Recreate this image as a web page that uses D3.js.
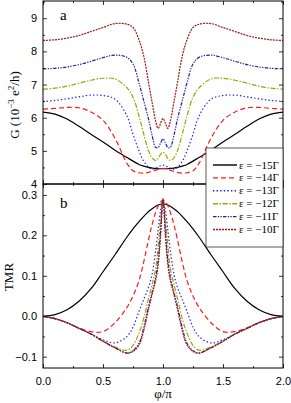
<!DOCTYPE html>
<html><head><meta charset="utf-8">
<script src="https://cdn.jsdelivr.net/npm/d3@7"></script>
<style>
html,body{margin:0;padding:0;background:#fff;}
svg{display:block;}
.tick text{font-family:"Liberation Sans",Arial,sans-serif;font-size:11px;fill:#000;}
.serif{font-family:"Liberation Serif","Times New Roman",serif;fill:#000;}
</style>
</head><body>
<svg id="c" width="291" height="403"></svg>
<script>
// ---------- data ----------
const phi = [0,0.1,0.2,0.3,0.4,0.5,0.6,0.7,0.75,0.8,0.84,0.88,0.91,0.94,0.96,0.98,1.0,
             1.02,1.04,1.06,1.09,1.12,1.16,1.2,1.25,1.3,1.4,1.5,1.6,1.7,1.8,1.9,2.0];
const legendLabels = ["ε = −15Γ","ε = −14Γ","ε = −13Γ","ε = −12Γ","ε = −11Γ","ε = −10Γ"];

// conductance G (10^-3 e^2/h)
const G15 = [6.17,6.11,5.96,5.74,5.5,5.27,5.02,4.8,4.69,4.59,4.54,4.5,4.48,4.47,4.46,4.46,4.46,
             4.46,4.46,4.47,4.48,4.5,4.54,4.59,4.69,4.8,5.02,5.27,5.5,5.74,5.96,6.11,6.17];
const G14 = [6.26,6.28,6.31,6.3,6.17,5.92,5.38,4.62,4.4,4.34,4.33,4.35,4.38,4.42,4.44,4.46,4.47,
             4.46,4.44,4.42,4.38,4.35,4.33,4.34,4.4,4.62,5.38,5.92,6.17,6.3,6.31,6.28,6.26];
const G13 = [6.49,6.52,6.57,6.63,6.68,6.67,6.56,6.05,5.5,5.0,4.68,4.5,4.45,4.47,4.51,4.55,4.57,
             4.55,4.51,4.47,4.45,4.5,4.68,5.0,5.5,6.05,6.56,6.67,6.68,6.63,6.57,6.52,6.49];
const G12 = [6.86,6.89,6.95,7.04,7.13,7.19,7.17,6.9,6.62,6.05,5.5,5.0,4.78,4.71,4.77,4.9,4.96,
             4.9,4.77,4.71,4.78,5.0,5.5,6.05,6.62,6.9,7.17,7.19,7.13,7.04,6.95,6.89,6.86];
const G11 = [7.47,7.49,7.53,7.6,7.7,7.81,7.89,7.82,7.62,7.05,6.5,5.95,5.45,5.1,5.1,5.24,5.36,
             5.24,5.1,5.1,5.45,5.95,6.5,7.05,7.62,7.82,7.89,7.81,7.7,7.6,7.53,7.49,7.47];
const G10 = [8.33,8.35,8.4,8.48,8.6,8.72,8.84,8.82,8.72,8.35,7.85,7.05,6.45,5.88,5.68,5.83,5.98,
             5.83,5.68,5.88,6.45,7.05,7.85,8.35,8.72,8.82,8.84,8.72,8.6,8.48,8.4,8.35,8.33];

// TMR
const T15 = [0,0.004,0.016,0.037,0.068,0.11,0.152,0.196,0.216,0.234,0.247,0.259,0.266,0.272,0.275,0.277,0.278,
             0.277,0.275,0.272,0.266,0.259,0.247,0.234,0.216,0.196,0.152,0.11,0.068,0.037,0.016,0.004,0];
const T14 = [0,-0.006,-0.016,-0.029,-0.038,-0.038,-0.016,0.022,0.05,0.088,0.135,0.19,0.228,0.258,0.273,0.283,0.287,
             0.283,0.273,0.258,0.228,0.19,0.135,0.088,0.05,0.022,-0.016,-0.038,-0.038,-0.029,-0.016,-0.006,0];
const T13 = [0,-0.006,-0.016,-0.03,-0.044,-0.058,-0.066,-0.05,-0.027,0.012,0.042,0.072,0.105,0.165,0.215,0.262,0.287,
             0.262,0.215,0.165,0.105,0.072,0.042,0.012,-0.027,-0.05,-0.066,-0.058,-0.044,-0.03,-0.016,-0.006,0];
const T12 = [0,-0.006,-0.016,-0.03,-0.044,-0.061,-0.076,-0.084,-0.072,-0.042,-0.005,0.045,0.08,0.12,0.175,0.24,0.288,
             0.24,0.175,0.12,0.08,0.045,-0.005,-0.042,-0.072,-0.084,-0.076,-0.061,-0.044,-0.03,-0.016,-0.006,0];
const T11 = [0,-0.006,-0.016,-0.03,-0.044,-0.062,-0.078,-0.091,-0.085,-0.067,-0.027,0.025,0.06,0.098,0.14,0.21,0.289,
             0.21,0.14,0.098,0.06,0.025,-0.027,-0.067,-0.085,-0.091,-0.078,-0.062,-0.044,-0.03,-0.016,-0.006,0];
const T10 = [0,-0.006,-0.016,-0.03,-0.044,-0.062,-0.078,-0.091,-0.087,-0.071,-0.035,0.018,0.055,0.09,0.128,0.2,0.291,
             0.2,0.128,0.09,0.055,0.018,-0.035,-0.071,-0.087,-0.091,-0.078,-0.062,-0.044,-0.03,-0.016,-0.006,0];

const xTicks = [0,0.5,1.0,1.5,2.0];
const xMinor = [0.25,0.75,1.25,1.75];
const gTicks = [4,5,6,7,8,9];
const gMinor = [4.5,5.5,6.5,7.5,8.5,9.5];
const tTicks = [-0.1,0.0,0.1,0.2,0.3];
const tMinor = [-0.05,0.05,0.15,0.25];

// ---------- styles ----------
const styles = [
  {color:"#000000", dash:null},
  {color:"#ff1a1a", dash:"5,3"},
  {color:"#1a1aff", dash:"1.4,2.2"},
  {color:"#a3a300", dash:"5,1.6,1.4,1.6"},
  {color:"#20209a", dash:"3.5,1.3,1.3,1.3,1.3,1.3"},
  {color:"#a01818", dash:"2,1"}
];

// ---------- layout ----------
const L = 43, R = 283, T1 = 1, B1 = 184, T2 = 184, B2 = 368;
const svg = d3.select("#c");
const x = d3.scaleLinear().domain([0,2]).range([L,R]);
const yG = d3.scaleLinear().domain([4,9.52]).range([B1,T1]);
const yT = d3.scaleLinear().domain([-0.128,0.327]).range([B2,T2]);

const defs = svg.append("defs");
defs.append("clipPath").attr("id","cp1").append("rect").attr("x",L).attr("y",T1).attr("width",R-L).attr("height",B1-T1);
defs.append("clipPath").attr("id","cp2").append("rect").attr("x",L).attr("y",T2).attr("width",R-L).attr("height",B2-T2);

function drawPanel(series, y, clip) {
  const g = svg.append("g").attr("clip-path",`url(#${clip})`);
  const line = d3.line().x((d,i)=>x(phi[i])).y(d=>y(d)).curve(d3.curveCatmullRom.alpha(0.5));
  series.forEach((s,i)=>{
    g.append("path").attr("d",line(s)).attr("fill","none")
      .attr("stroke",styles[i].color).attr("stroke-width",1.2)
      .attr("stroke-dasharray",styles[i].dash);
  });
}
drawPanel([G15,G14,G13,G12,G11,G10], yG, "cp1");
drawPanel([T15,T14,T13,T12,T11,T10], yT, "cp2");

function axes(y, top, bottom, yt, ym, showX) {
  const add = (gen, tx, ty) => {
    const a = svg.append("g").attr("transform",`translate(${tx},${ty})`).call(gen);
    a.select(".domain").remove();
    a.selectAll("line").attr("stroke","#000").attr("stroke-width",0.8);
    return a;
  };
  // left
  add(d3.axisLeft(y).tickValues(yt).tickSize(-4).tickPadding(6).tickFormat(y===yG?d3.format("d"):d3.format(".1f")), L, 0);
  add(d3.axisLeft(y).tickValues(ym).tickSize(-2).tickFormat(""), L, 0);
  // right
  add(d3.axisRight(y).tickValues(yt).tickSize(-4).tickFormat(""), R, 0);
  add(d3.axisRight(y).tickValues(ym).tickSize(-2).tickFormat(""), R, 0);
  // top
  add(d3.axisTop(x).tickValues(xTicks).tickSize(-4).tickFormat(""), 0, top);
  add(d3.axisTop(x).tickValues(xMinor).tickSize(-2).tickFormat(""), 0, top);
  // bottom
  add(d3.axisBottom(x).tickValues(xTicks).tickSize(-4).tickPadding(9).tickFormat(showX?d3.format(".1f"):""), 0, bottom);
  add(d3.axisBottom(x).tickValues(xMinor).tickSize(-2).tickFormat(""), 0, bottom);
  svg.append("rect").attr("x",L).attr("y",top).attr("width",R-L).attr("height",bottom-top)
    .attr("fill","none").attr("stroke","#000").attr("stroke-width",1);
}
axes(yG, T1, B1, gTicks, gMinor, false);
axes(yT, T2, B2, tTicks, tMinor, true);

// panel letters
svg.append("text").attr("class","serif").attr("x",60).attr("y",20).attr("font-size",15).text("a");
svg.append("text").attr("class","serif").attr("x",60).attr("y",208).attr("font-size",15).text("b");

// axis titles
const gl = svg.append("text").attr("class","serif").attr("font-size",13)
  .attr("text-anchor","middle").attr("transform","translate(19,105) rotate(-90)");
gl.append("tspan").text("G (10");
gl.append("tspan").attr("dy",-5).attr("font-size",9).text("−3");
gl.append("tspan").attr("dy",5).text(" e");
gl.append("tspan").attr("dy",-5).attr("font-size",9).text("2");
gl.append("tspan").attr("dy",5).text("/h)");

svg.append("text").attr("class","serif").attr("font-size",13).attr("text-anchor","middle")
  .attr("transform","translate(13,277) rotate(-90)").text("TMR");
svg.append("text").attr("class","serif").attr("font-size",13).attr("text-anchor","middle")
  .attr("x",163).attr("y",398).text("φ/π");

// legend
const lg = svg.append("g");
lg.append("rect").attr("x",206).attr("y",148).attr("width",R-206).attr("height",99)
  .attr("fill","#fff").attr("stroke","#333").attr("stroke-width",0.8);
legendLabels.forEach((lab,i)=>{
  const yy = 165 + i*12.9;
  lg.append("line").attr("x1",213).attr("x2",237).attr("y1",yy).attr("y2",yy)
    .attr("stroke",styles[i].color).attr("stroke-width",1.4).attr("stroke-dasharray",styles[i].dash);
  lg.append("text").attr("class","serif").attr("font-size",11).attr("x",239).attr("y",yy+3.5).text(lab);
});
</script>
</body></html>
